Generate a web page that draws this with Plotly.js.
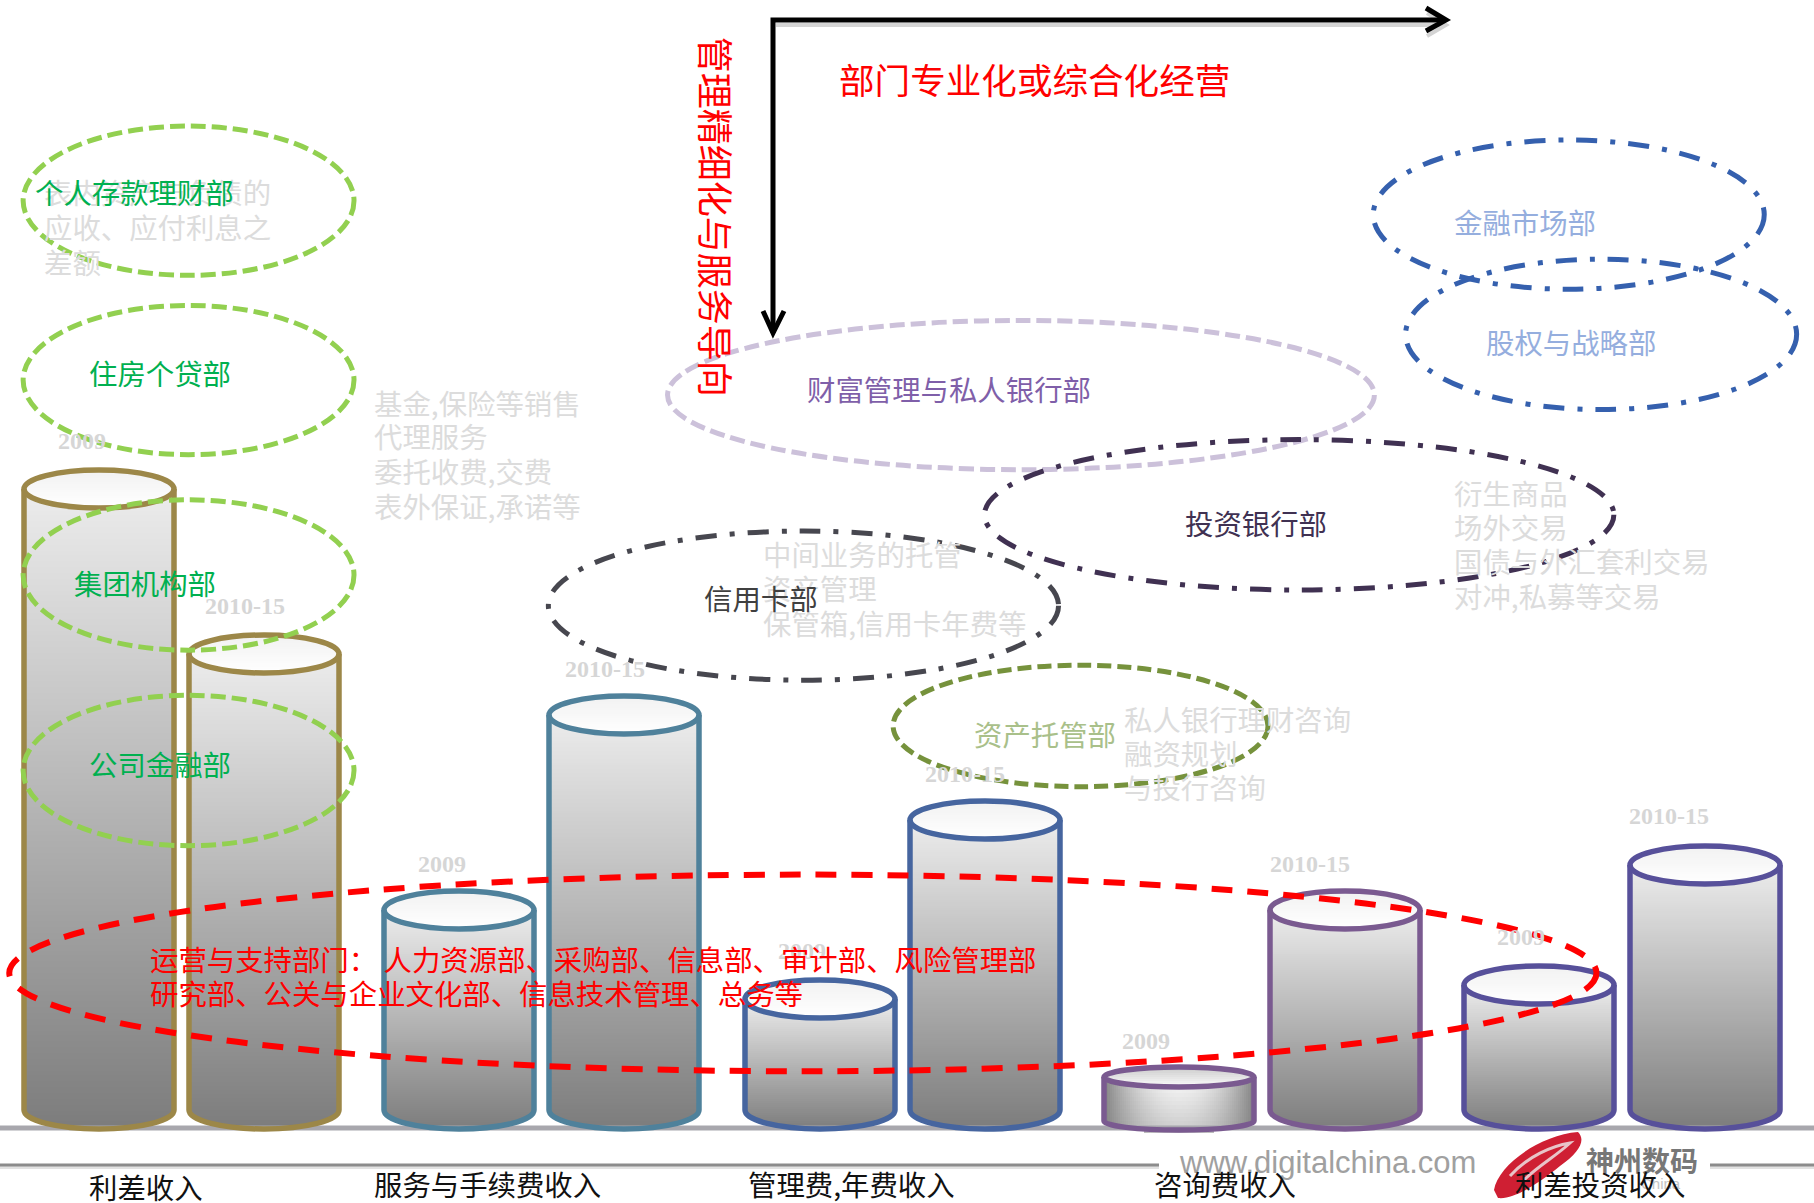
<!DOCTYPE html>
<html>
<head>
<meta charset="utf-8">
<script src="https://cdn.plot.ly/plotly-3.0.1.min.js"></script>
<style>html,body{margin:0;padding:0;background:#fff}#chart{width:1814px;height:1203px}</style>
</head>
<body>
<div id="chart"></div>
<script>
// ---------- data ----------
const categories = ['利差收入', '服务与手续费收入', '管理费,年费收入', '咨询费收入', '利差投资收入'];
const years = ['2009', '2010-15'];
const values2009 = [621, 200, 111, 33, 125];
const values201015 = [456, 395, 290, 200, 245];
const departments = ['个人存款理财部', '住房个贷部', '集团机构部', '公司金融部', '财富管理与私人银行部',
  '投资银行部', '信用卡部', '资产托管部', '金融市场部', '股权与战略部'];
const supportLines = ['运营与支持部门：\u00a0人力资源部、采购部、信息部、审计部、风险管理部', '研究部、公关与企业文化部、信息技术管理、总务等'];
const noteInterest = ['表内资产与负债的', '应收、应付利息之', '差额'];
const noteService = ['基金,保险等销售', '代理服务', '委托收费,交费', '表外保证,承诺等'];
const noteFees = ['中间业务的托管', '资产管理', '保管箱,信用卡年费等'];
const noteAdvice = ['私人银行理财咨询', '融资规划', '与投行咨询'];
const noteTrading = ['衍生商品', '场外交易', '国债与外汇套利交易', '对冲,私募等交易'];
const axisTitleX = '部门专业化或综合化经营';
const axisTitleY = '管理精细化与服务导向';

// ---------- layout helpers ----------
const S = 1814 / 1568;          // coordinates below are measured on a 1568-wide view
const BASE = 1110;              // pixel row of the value-zero level
const Y = py => BASE - py;      // pixel row -> y-axis value
const CJK = '"Noto Sans CJK SC","Liberation Serif",sans-serif';

const lefts2009 = [20, 331, 643, 954, 1265];
const lefts201015 = [163, 474, 786, 1097, 1408];
const groupColors = ['#9c8748', '#4f819b', '#46659f', '#7a5a90', '#57509a'];
const HW = 75, RY = 19;

const traces = [], shapes = [], annotations = [];
const grey = v => { const g = Math.round(v); return `rgb(${g},${g},${g})`; };

function sliced(xs, ws, bases, hs, colors) {
  traces.push({type: 'bar', x: xs, width: ws, base: bases, y: hs,
    marker: {color: colors, line: {width: 0}}, hoverinfo: 'skip', showlegend: false});
}

function cylinder(left, value, color) {
  const cx = Math.round((left + 65.5) * S);
  const top = BASE - value;
  const short = value < 50;
  const ry = short ? 9 : RY;
  const baseRow = short ? BASE + 11 : BASE;
  const step = 2;
  const xs = [], ws = [], bs = [], hs = [], cs = [];
  if (short) {
    // low cylinder: light centre, dark flanks
    for (let x = -HW; x < HW; x += 2) {
      const u = (x + 1) / HW;
      const end = baseRow + ry * Math.sqrt(Math.max(0, 1 - u * u));
      const t0 = end - top;
      const c0 = 130 + (1 - u * u) * 118, c1 = 130 + (1 - u * u) * 72;
      for (let py = top; py < end; py += 4) {
        const t = (py - top) / t0;
        xs.push(cx + x + 1); ws.push(2); bs.push(Y(py + 4)); hs.push(4); cs.push(grey(c0 + (c1 - c0) * t));
      }
    }
  } else {
    const end = baseRow + ry;
    for (let py = top; py < end; py += step) {
      let half = HW;
      if (py > baseRow) {
        const v = (py - baseRow) / ry;
        half = HW * Math.sqrt(Math.max(0, 1 - v * v));
      }
      const t = (py - top) / (end - top);
      xs.push(cx); ws.push(2 * half); bs.push(Y(py + step)); hs.push(step);
      cs.push(grey(236 - 112 * t));
    }
  }
  sliced(xs, ws, bs, hs, cs);

  // cap of the cylinder
  const capRy = short ? 10 : RY;
  const xc = [], wc = [], bc = [], hc = [], cc = [];
  for (let py = top - capRy; py < top + capRy; py += 2) {
    const v = (py + 1 - top) / capRy;
    const t = (py - top + capRy) / (2 * capRy);
    xc.push(cx); wc.push(2 * HW * Math.sqrt(Math.max(0, 1 - v * v)));
    bc.push(Y(py + 2)); hc.push(2); cc.push(grey((short ? 205 : 242) + (short ? 50 : 13) * t));
  }
  sliced(xc, wc, bc, hc, cc);

  // outlines
  const k = 0.5523;
  const l = cx - HW, r = cx + HW;
  shapes.push({type: 'path', xref: 'x', yref: 'y', line: {color: color, width: 5.5}, fillcolor: 'rgba(0,0,0,0)',
    path: `M ${l} ${Y(top)} L ${l} ${Y(baseRow)} C ${l} ${Y(baseRow + k * ry)} ${cx - k * HW} ${Y(baseRow + ry)} ${cx} ${Y(baseRow + ry)} ` +
          `C ${cx + k * HW} ${Y(baseRow + ry)} ${r} ${Y(baseRow + k * ry)} ${r} ${Y(baseRow)} L ${r} ${Y(top)}`});
  shapes.push({type: 'circle', xref: 'x', yref: 'y', x0: l, x1: r, y0: Y(top - capRy), y1: Y(top + capRy),
    line: {color: color, width: 5.5}, fillcolor: 'rgba(0,0,0,0)'});
}

function hLine(x0, x1, py, color, width) {
  shapes.push({type: 'line', xref: 'x', yref: 'y', x0, x1, y0: Y(py), y1: Y(py), line: {color, width}});
}
function segs(pts, color, width) {
  shapes.push({type: 'path', xref: 'x', yref: 'y', line: {color, width}, fillcolor: 'rgba(0,0,0,0)',
    path: pts.map((p, i) => `${i ? 'L' : 'M'} ${p[0]} ${Y(p[1])}`).join(' ')});
}
function ellipse(x0, x1, y0, y1, color, dash, width) {
  shapes.push({type: 'circle', xref: 'x', yref: 'y', x0: x0 * S, x1: x1 * S, y0: Y(y0 * S), y1: Y(y1 * S),
    line: {color, width: width || 5, dash}, fillcolor: 'rgba(0,0,0,0)'});
}
function label(text, x, y, color, size, opts) {
  annotations.push(Object.assign({text, xref: 'x', yref: 'y', x: (x - 1) * S, y: Y((y - 1.2) * S), showarrow: false,
    xanchor: 'left', yanchor: 'middle', align: 'left', borderpad: 0,
    font: {family: CJK, size: size || 28.4, color}}, opts || {}));
}

// ---------- background rules ----------
hLine(0, 1814, 1128, '#a8a7ad', 5);
hLine(0, 1159, 1167, '#e2e2e2', 4);
hLine(0, 1159, 1165, '#8c8c8c', 3);
hLine(1710, 1814, 1167, '#e2e2e2', 4);
hLine(1710, 1814, 1165, '#8c8c8c', 3);

// ---------- cylinders ----------
categories.forEach((c, i) => {
  cylinder(lefts2009[i], values2009[i], groupColors[i]);
  cylinder(lefts201015[i], values201015[i], groupColors[i]);
});

// ---------- dashed groupings ----------
const GREEN = '#92d050', D1 = '15px,6px', DD = '21px,13px,5px,13px';
ellipse(20, 306, 109, 238, GREEN, D1);
ellipse(20, 306, 264, 393, GREEN, D1);
ellipse(20, 306, 432, 562, GREEN, D1);
ellipse(20, 306, 601, 731, GREEN, D1);
ellipse(577, 1188, 277, 406, '#ccc1da', D1);
ellipse(851, 1395, 380, 510, '#403152', DD);
ellipse(474, 915, 459, 588, '#47474f', DD);
ellipse(772, 1096, 575, 680, '#76923c', '14px,6px');
ellipse(1187, 1525, 121, 250, '#3560ae', DD);
ellipse(1215, 1553, 224, 354, '#3560ae', DD);
ellipse(8, 1380, 756, 926, '#ff0000', '21px,15px', 6);

// ---------- axis arrows ----------
segs([[1446, 25], [1427, 13], [1446, 25], [1427, 36]], '#d4d4d4', 4);
hLine(776, 1444, 25, '#d4d4d4', 4);
segs([[773, 333], [773, 20], [1445, 20]], '#000000', 5);
segs([[1426, 8], [1446, 20], [1426, 31]], '#000000', 5);
segs([[763, 311], [773, 333], [784, 311]], '#000000', 5);

// ---------- logo ----------
shapes.push({type: 'path', xref: 'x', yref: 'y', line: {width: 0}, fillcolor: '#cf1f33',
  path: `M 1494 ${Y(1190)} C 1498 ${Y(1165)} 1540 ${Y(1135)} 1578 ${Y(1132)} C 1586 ${Y(1140)} 1580 ${Y(1152)} 1560 ${Y(1166)} C 1540 ${Y(1182)} 1515 ${Y(1200)} 1498 ${Y(1198)} Z`});
shapes.push({type: 'path', xref: 'x', yref: 'y', line: {color: '#e8c4c8', width: 3}, fillcolor: 'rgba(0,0,0,0)',
  path: `M 1510 ${Y(1176)} C 1528 ${Y(1156)} 1552 ${Y(1146)} 1570 ${Y(1143)} C 1556 ${Y(1156)} 1538 ${Y(1166)} 1524 ${Y(1180)}`});

// ---------- texts ----------
label('www.digitalchina.com', 1019, 1006, '#a0a0a0', 31, {font: {family: '"Liberation Sans",sans-serif', size: 31, color: '#a0a0a0'}});
annotations.push({text: '<b>神州数码</b>', xref: 'x', yref: 'y', x: 1585, y: Y(1160), showarrow: false, xanchor: 'left', yanchor: 'middle',
  borderpad: 0, font: {family: CJK, size: 28, color: '#777777'}});
annotations.push({text: 'China', xref: 'x', yref: 'y', x: 1640, y: Y(1183), showarrow: false, xanchor: 'left', yanchor: 'middle',
  borderpad: 0, font: {family: '"Liberation Sans",sans-serif', size: 15, color: '#c4c4c4'}});

const NOTE = '#dcdcdc';
const block = (lines, x, ys) => lines.forEach((t, i) => label(t, x, ys[i], NOTE));
block(noteInterest, 38, [167, 197, 227]);
block(noteService, 323, [349, 378, 408, 438]);
block(noteFees, 660, [480, 509, 539]);
block(noteAdvice, 972, [622, 652, 681]);
block(noteTrading, 1257, [427, 456, 486, 516]);

const yearLabelPos = [[71, 381], [212, 524], [382, 747], [523, 578], [693, 822], [834, 669], [991, 900], [1132, 747], [1315, 810], [1443, 705]];
yearLabelPos.forEach((p, i) => {
  annotations.push({text: '<b>' + years[i % 2] + '</b>', xref: 'x', yref: 'y', x: p[0] * S, y: Y(p[1] * S), showarrow: false,
    xanchor: 'center', yanchor: 'middle', borderpad: 0, font: {family: '"Liberation Serif",serif', size: 24, color: '#d6d6d6'}});
});

const deptPos = [[30, 167], [77, 323], [64, 505], [77, 661], [698, 337], [1024, 453], [609, 518], [842, 635], [1257, 193], [1285, 296]];
const deptColors = ['#00b050', '#00b050', '#00b050', '#00b050', '#7f5fa9', '#403152', '#404040', '#a9c08a', '#95aede', '#95aede'];
departments.forEach((t, i) => label(t, deptPos[i][0], deptPos[i][1], deptColors[i]));

supportLines.forEach((t, i) => label(t, 130, [830, 859][i], '#ff0000'));

const catPos = [[77, 1027], [323, 1024], [647, 1024], [998, 1024], [1310, 1024]];
categories.forEach((t, i) => label(t, catPos[i][0], catPos[i][1], '#111111'));

label(axisTitleX, 725, 69, '#ff0000', 35.6);
annotations.push({text: axisTitleY, xref: 'x', yref: 'y', x: 620 * S, y: Y(187.5 * S), textangle: 90, showarrow: false,
  xanchor: 'center', yanchor: 'middle', borderpad: 0, font: {family: CJK, size: 36, color: '#ff0000'}});

// ---------- plot ----------
Plotly.newPlot('chart', traces, {
  width: 1814, height: 1203,
  margin: {l: 0, r: 0, t: 0, b: 0, pad: 0},
  paper_bgcolor: '#ffffff', plot_bgcolor: '#ffffff',
  barmode: 'overlay', showlegend: false,
  xaxis: {range: [0, 1814], visible: false, fixedrange: true},
  yaxis: {range: [BASE - 1203, BASE], visible: false, fixedrange: true},
  shapes, annotations
}, {staticPlot: true, displayModeBar: false});
</script>
</body>
</html>
